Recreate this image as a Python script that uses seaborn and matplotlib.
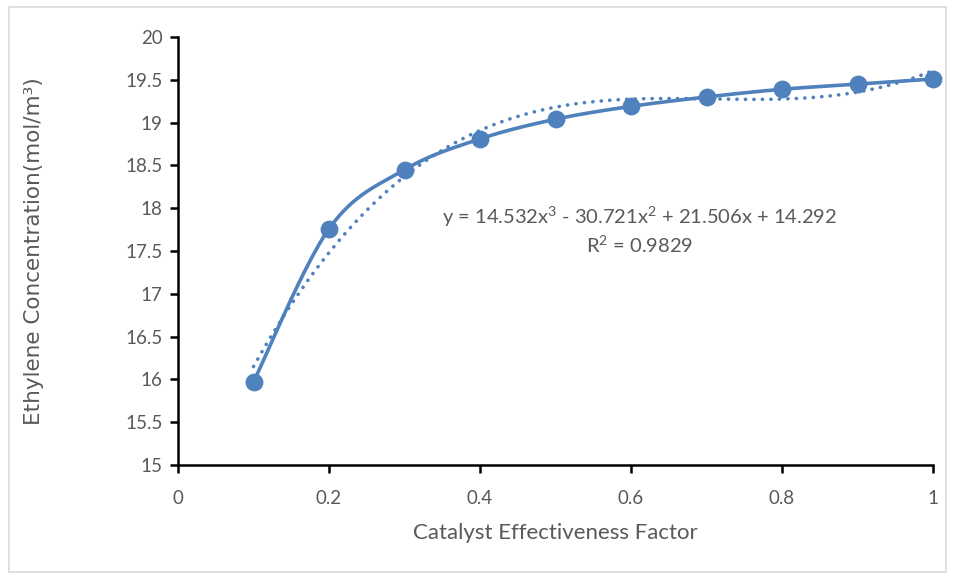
import numpy as np
import pandas as pd
import matplotlib
matplotlib.use("Agg")
import matplotlib.pyplot as plt
from matplotlib.patches import Rectangle
import seaborn as sns

# Measured ethylene concentration against catalyst effectiveness factor
effectiveness = [0.1, 0.2, 0.3, 0.4, 0.5, 0.6, 0.7, 0.8, 0.9, 1.0]
concentration = [15.97, 17.76, 18.45, 18.81, 19.04, 19.19, 19.30, 19.39, 19.45, 19.51]

# Cubic trendline coefficients (highest power first) and its R²
trend_coeffs = [14.532, -30.721, 21.506, 14.292]
r_squared = 0.9829

x_ticks = [0, 0.2, 0.4, 0.6, 0.8, 1]
y_ticks = [15, 15.5, 16, 16.5, 17, 17.5, 18, 18.5, 19, 19.5, 20]
x_tick_labels = ["0", "0.2", "0.4", "0.6", "0.8", "1"]
y_tick_labels = ["15", "15.5", "16", "16.5", "17", "17.5", "18", "18.5", "19", "19.5", "20"]

BLUE = "#4F81BD"
GREY = "#595959"


def smooth_curve(xs, ys, n=40):
    """Cardinal (Catmull-Rom style) Bezier smoothing through every point."""
    pts = np.column_stack([xs, ys]).astype(float)
    out = []
    for i in range(len(pts) - 1):
        p0 = pts[i - 1] if i > 0 else pts[i]
        p1 = pts[i]
        p2 = pts[i + 1]
        p3 = pts[i + 2] if i + 2 < len(pts) else pts[i + 1]
        c1 = p1 + (p2 - p0) / 6.0
        c2 = p2 - (p3 - p1) / 6.0
        t = np.linspace(0, 1, n, endpoint=(i == len(pts) - 2))[:, None]
        seg = ((1 - t) ** 3) * p1 + 3 * ((1 - t) ** 2) * t * c1 + 3 * (1 - t) * t ** 2 * c2 + t ** 3 * p2
        out.append(seg)
    out = np.vstack(out)
    return out[:, 0], out[:, 1]


sns.set_theme(style="white")
plt.rcParams["font.family"] = ["Lato", "DejaVu Sans"]
plt.rcParams["mathtext.fontset"] = "custom"
plt.rcParams["mathtext.rm"] = "Lato"
plt.rcParams["mathtext.it"] = "Lato"
plt.rcParams["mathtext.default"] = "rm"

fig = plt.figure(figsize=(9.55, 5.79), dpi=100)
fig.patch.set_facecolor("white")
fig.add_artist(Rectangle((0.009, 0.012), 0.982, 0.976, transform=fig.transFigure,
                         fill=False, edgecolor="#D9D9D9", linewidth=1.2))

ax = fig.add_axes([0.1864, 0.197, 0.7906, 0.739])

data = pd.DataFrame({"x": effectiveness, "y": concentration})

sx, sy = smooth_curve(effectiveness, concentration)
smooth_df = pd.DataFrame({"x": sx, "y": sy})
sns.lineplot(data=smooth_df, x="x", y="y", ax=ax, color=BLUE, linewidth=2.6,
             sort=False, estimator=None, zorder=3)

tx = np.linspace(min(effectiveness), max(effectiveness), 300)
ty = np.polyval(trend_coeffs, tx)
trend_df = pd.DataFrame({"x": tx, "y": ty})
sns.lineplot(data=trend_df, x="x", y="y", ax=ax, color=BLUE, linewidth=2.6,
             estimator=None, zorder=2, dashes=False)
trend_line = ax.lines[-1]
trend_line.set_linestyle((0, (0.05, 2.3)))
trend_line.set_dash_capstyle("round")
trend_line.set_solid_capstyle("round")

sns.scatterplot(data=data, x="x", y="y", ax=ax, color=BLUE, s=165,
                edgecolor=BLUE, linewidth=0, zorder=4, clip_on=False)

ax.set_xlim(0, 1)
ax.set_ylim(15, 20)
ax.set_xticks(x_ticks)
ax.set_xticklabels(x_tick_labels)
ax.set_yticks(y_ticks)
ax.set_yticklabels(y_tick_labels)

for side in ["top", "right"]:
    ax.spines[side].set_visible(False)
for side in ["left", "bottom"]:
    ax.spines[side].set_color("black")
    ax.spines[side].set_linewidth(1.8)
ax.tick_params(axis="both", which="major", direction="out", length=6, width=1.8,
               color="black", labelcolor=GREY, labelsize=13.5,
               bottom=True, left=True)
ax.tick_params(axis="y", pad=5)
ax.tick_params(axis="x", pad=12)

ax.set_xlabel("Catalyst Effectiveness Factor", color=GREY, fontsize=16)
ax.xaxis.set_label_coords(0.5, -0.135)
ax.set_ylabel("Ethylene Concentration(mol/m³)", color=GREY, fontsize=15.5,
              family=["DejaVu Sans"])
ax.yaxis.set_label_coords(-0.178, 0.5)

a, b, c, d = trend_coeffs
eq = (f"y = {a:.3f}x$^{{3}}$ - {abs(b):.3f}x$^{{2}}$ + "
      f"{c:.3f}x + {d:.3f}")
ax.text(0.612, 17.90, eq, ha="center", va="center", color=GREY, fontsize=14.5)
ax.text(0.612, 17.57, f"R$^{{2}}$ = {r_squared:.4f}", ha="center", va="center",
        color=GREY, fontsize=14.5)

fig.savefig("out.png", dpi=100, facecolor="white")
